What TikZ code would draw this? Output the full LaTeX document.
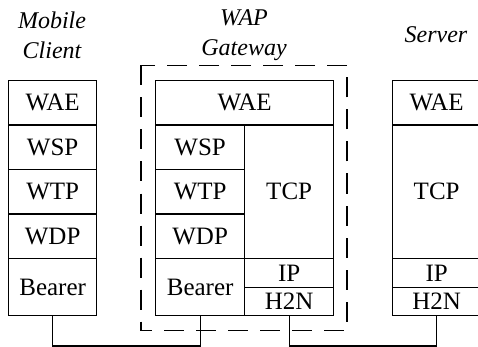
\documentclass[tikz,border=0pt]{standalone}
\usepackage{fontspec}
\setmainfont{Liberation Serif}

\begin{document}
\begin{tikzpicture}[x=1pt,y=-1pt]

\useasboundingbox (0,0) rectangle (478,347);

\tikzstyle{every node}=[font=\fontsize{25}{30}\selectfont]
\tikzstyle{layer}=[draw, line width=1.3pt, rectangle, inner sep=0pt, anchor=north west]
\tikzstyle{title}=[font=\fontsize{24}{30}\selectfont\itshape, align=center]
\tikzstyle{wire}=[line width=1.3pt]

% Mobile Client
\node[title] (tm) at (52,35) {Mobile\\Client};
\node[layer, minimum width=88pt, minimum height=44.4pt] (mwae) at (8,80) {WAE};
\node[layer, minimum width=88pt, minimum height=44.4pt] (mwsp) at (8,124.4) {WSP};
\node[layer, minimum width=88pt, minimum height=44.4pt] (mwtp) at (8,168.8) {WTP};
\node[layer, minimum width=88pt, minimum height=44.4pt] (mwdp) at (8,213.2) {WDP};
\node[layer, minimum width=88pt, minimum height=57.4pt] (mbear) at (8,257.6) {Bearer};

% WAP Gateway
\node[title] (tg) at (244,35) {WAP\\Gateway};
\draw[line width=1.3pt, dash pattern=on 20pt off 12pt] (141,65.5) rectangle (347,330.5);
\node[layer, minimum width=178pt, minimum height=44.4pt] (gwae) at (155,80) {WAE};
\node[layer, minimum width=89pt, minimum height=44.4pt] (gwsp) at (155,124.4) {WSP};
\node[layer, minimum width=89pt, minimum height=44.4pt] (gwtp) at (155,168.8) {WTP};
\node[layer, minimum width=89pt, minimum height=44.4pt] (gwdp) at (155,213.2) {WDP};
\node[layer, minimum width=89pt, minimum height=57.4pt] (gbear) at (155,257.6) {Bearer};
\node[layer, minimum width=89pt, minimum height=133.2pt] (gtcp) at (244,124.4) {TCP};
\node[layer, minimum width=89pt, minimum height=29.2pt] (gip) at (244,257.6) {IP};
\node[layer, minimum width=89pt, minimum height=28.2pt] (gh2n) at (244,286.8) {H2N};

% Server
\node[title] (ts) at (436,35) {Server};
\node[layer, minimum width=88pt, minimum height=44.4pt] (swae) at (392,80) {WAE};
\node[layer, minimum width=88pt, minimum height=133.2pt] (stcp) at (392,124.4) {TCP};
\node[layer, minimum width=88pt, minimum height=29.2pt] (sip) at (392,257.6) {IP};
\node[layer, minimum width=88pt, minimum height=28.2pt] (sh2n) at (392,286.8) {H2N};

% links
\draw[wire] (mbear.south) -- ++(0,29.7) -| (gbear.south);
\draw[wire] (gh2n.south) -- ++(0,29.7) -| (sh2n.south);

\end{tikzpicture}
\end{document}
